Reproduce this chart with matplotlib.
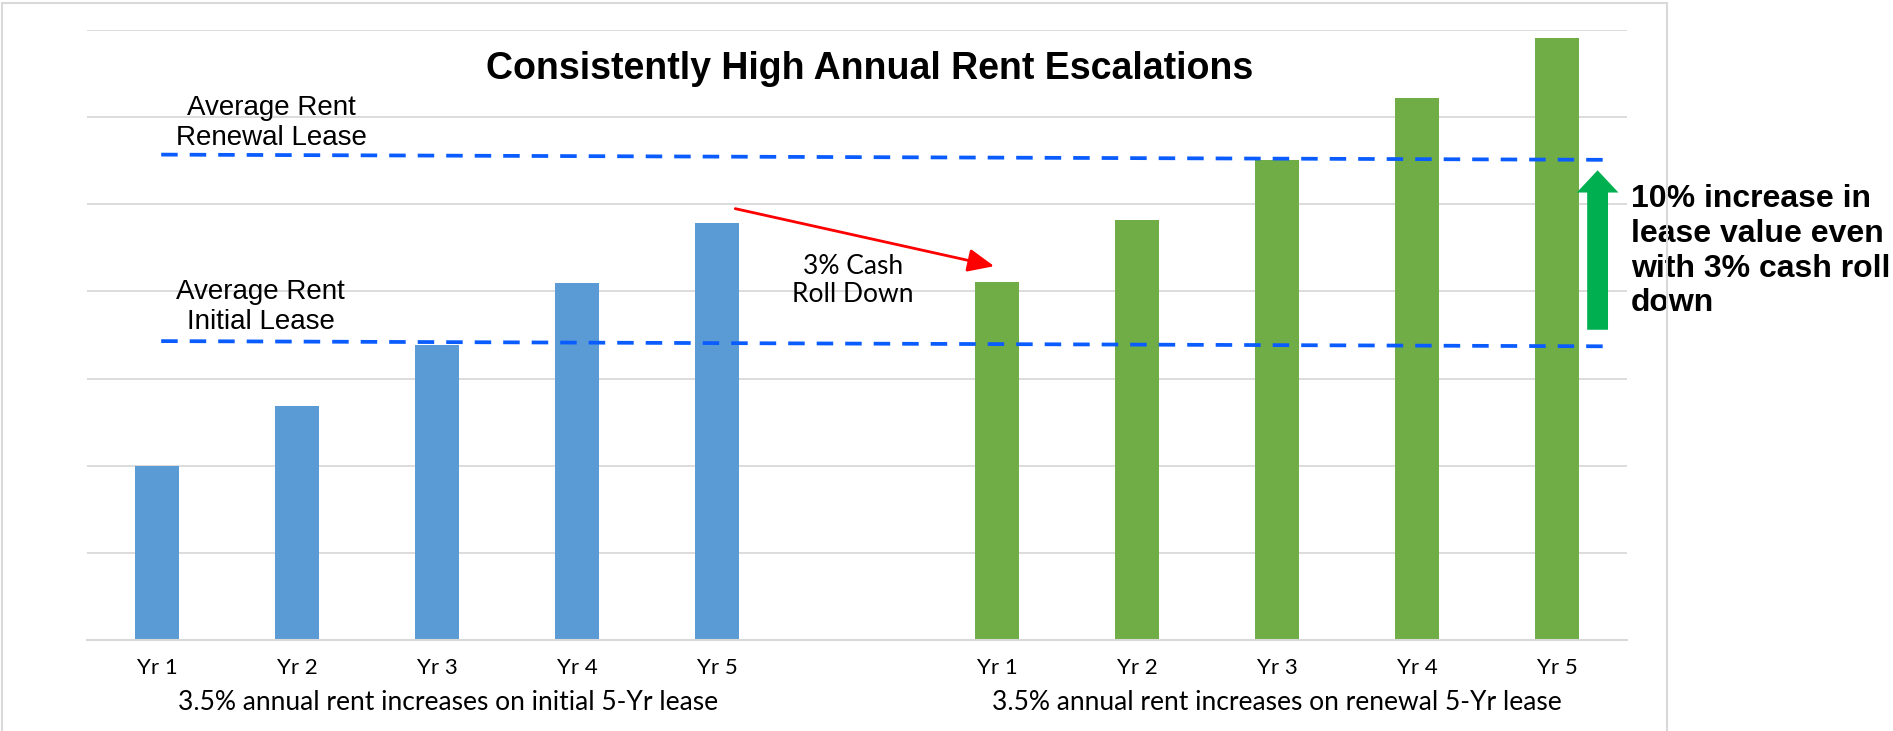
import matplotlib
matplotlib.use("Agg")
import matplotlib.pyplot as plt
from matplotlib.patches import FancyArrowPatch, Rectangle
from matplotlib.transforms import blended_transform_factory

# --- data (bar heights, arbitrary units) ---
initial_years = ["Yr 1", "Yr 2", "Yr 3", "Yr 4", "Yr 5"]
initial_rent = [2.0, 2.69, 3.39, 4.10, 4.79]
renewal_years = ["Yr 1", "Yr 2", "Yr 3", "Yr 4", "Yr 5"]
renewal_rent = [4.11, 4.82, 5.51, 6.22, 6.91]
initial_pos = [0, 1, 2, 3, 4]
renewal_pos = [6, 7, 8, 9, 10]

# average-rent reference lines (start/end x, start/end y)
avg_x = [0.03, 10.39]
avg_initial = [3.43, 3.37]
avg_renewal = [5.57, 5.51]

BLUE_BAR = "#5B9BD5"
GREEN_BAR = "#70AD47"
DASH_BLUE = "#0A5CFF"
GRID = "#D9D9D9"
ARIAL = "Liberation Sans"
CALIBRI = "Lato"

fig = plt.figure(figsize=(18.93, 7.31), dpi=100)
fig.patch.set_facecolor("white")
# light frame around the chart area
fig.patches.append(Rectangle((2 / 1893, -0.05), 1665 / 1893, 1.05 - 3 / 731,
                             transform=fig.transFigure, fill=False,
                             edgecolor=GRID, lw=1.5))

ax = fig.add_axes([87 / 1893, 1 - 640 / 731, 1540 / 1893, 610 / 731])
ax.set_xlim(-0.5, 10.5)
ax.set_ylim(0, 7)
for s in ["top", "right", "left"]:
    ax.spines[s].set_visible(False)
ax.spines["bottom"].set_color(GRID)
ax.spines["bottom"].set_linewidth(1.5)
ax.set_yticks(range(0, 8))
ax.set_yticklabels([])
ax.tick_params(axis="y", length=0)
ax.grid(axis="y", color=GRID, lw=1.3)
ax.set_axisbelow(True)

ax.bar(initial_pos, initial_rent, width=0.31, color=BLUE_BAR, zorder=2)
ax.bar(renewal_pos, renewal_rent, width=0.31, color=GREEN_BAR, zorder=2)

ax.set_xticks(initial_pos + renewal_pos)
ax.set_xticklabels(initial_years + renewal_years, fontsize=16, family=CALIBRI)
ax.tick_params(axis="x", length=0, pad=13)

trans = blended_transform_factory(ax.transData, ax.transAxes)
ax.text(2.08, -0.103, "3.5% annual rent increases on initial 5-Yr lease",
        transform=trans, ha="center", va="center", fontsize=19, family=CALIBRI)
ax.text(8.0, -0.103, "3.5% annual rent increases on renewal 5-Yr lease",
        transform=trans, ha="center", va="center", fontsize=19, family=CALIBRI)

# dashed average lines
dash = (0, (4.4, 3.2))
ax.plot(avg_x, avg_renewal, color=DASH_BLUE, lw=2.7, ls=dash, zorder=3)
ax.plot(avg_x, avg_initial, color=DASH_BLUE, lw=2.7, ls=dash, zorder=3)

ax.text(5.09, 6.55, "Consistently High Annual Rent Escalations", ha="center",
        va="center", fontsize=27, fontweight="bold", family=ARIAL)
ax.text(0.82, 5.93, "Average Rent\nRenewal Lease", ha="center", va="center",
        fontsize=20, family=ARIAL, linespacing=1.2)
ax.text(0.74, 3.82, "Average Rent\nInitial Lease", ha="center", va="center",
        fontsize=20, family=ARIAL, linespacing=1.2)
ax.text(4.97, 4.13, "3% Cash\nRoll Down", ha="center", va="center",
        fontsize=19, family=CALIBRI, linespacing=1.15)

# red roll-down arrow
ax.add_patch(FancyArrowPatch((4.13, 4.95), (5.98, 4.29),
                             arrowstyle="-|>,head_length=0.8,head_width=0.35",
                             mutation_scale=20, color="#FF0000", lw=2,
                             shrinkA=0, shrinkB=0, zorder=4))

# green up arrow
ax.add_patch(FancyArrowPatch((10.29, 3.56), (10.29, 5.39),
                             arrowstyle="simple,head_length=16,head_width=30,tail_width=15",
                             mutation_scale=1, color="#00B050", lw=0,
                             shrinkA=0, shrinkB=0, zorder=4, clip_on=False))
ax.text(10.53, 4.46, "10% increase in\nlease value even\nwith 3% cash roll\ndown",
        ha="left", va="center", fontsize=23, fontweight="bold", family=ARIAL,
        linespacing=1.2, clip_on=False)

fig.savefig("out.png", dpi=100, facecolor="white")
